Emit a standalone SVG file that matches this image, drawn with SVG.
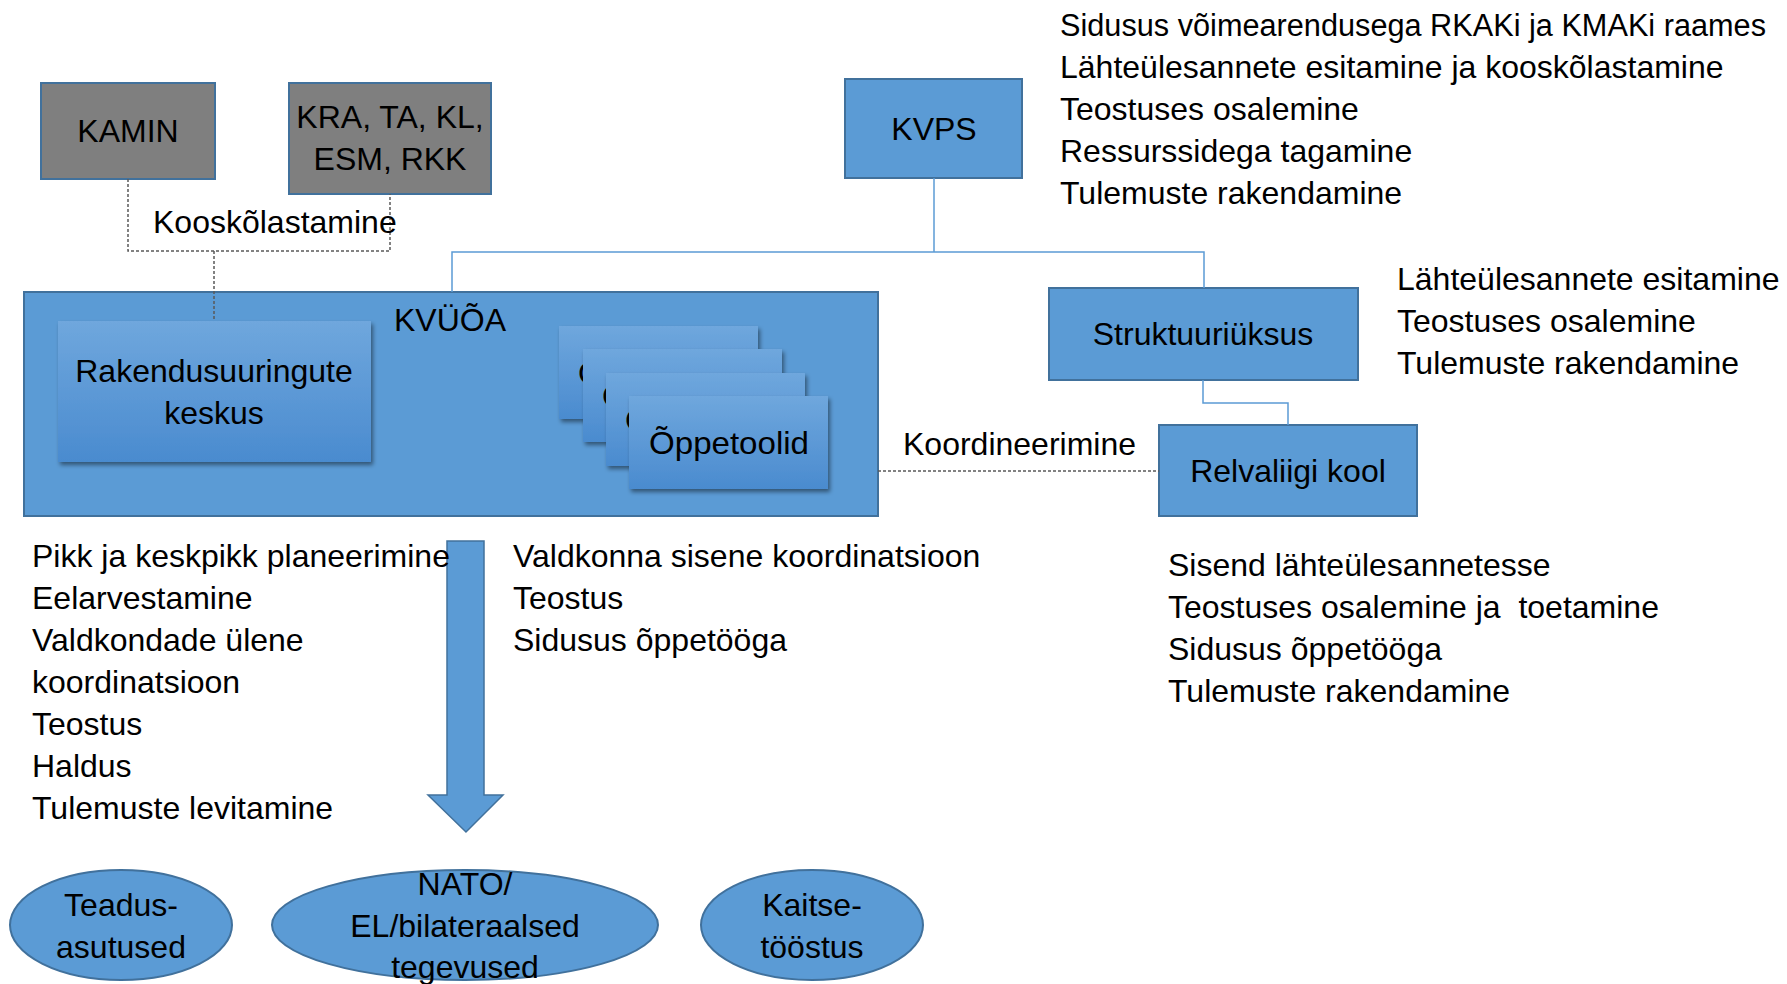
<svg xmlns="http://www.w3.org/2000/svg" width="1787" height="984" viewBox="0 0 1787 984">
<style>
.t{font-family:"Liberation Sans",Arial,sans-serif;font-size:32px;fill:#000}
.c{text-anchor:middle}
.box{fill:#5b9bd5;stroke:#41719c;stroke-width:2}
.gray{fill:#7f7f7f;stroke:#41719c;stroke-width:2}
.inner{fill:url(#g);filter:url(#sh)}
.conn{fill:none;stroke:#5b9bd5;stroke-width:1.5}
.dot{fill:none;stroke:#595959;stroke-width:1.5;stroke-dasharray:3 2}
</style>
<defs>
<linearGradient id="g" x1="0" y1="0" x2="0" y2="1">
<stop offset="0" stop-color="#6fa7dd"/>
<stop offset="1" stop-color="#4a8bcf"/>
</linearGradient>
<filter id="sh" x="-10%" y="-10%" width="125%" height="130%">
<feDropShadow dx="2" dy="3" stdDeviation="2" flood-color="#000" flood-opacity="0.45"/>
</filter>
</defs>
<rect width="1787" height="984" fill="#fff"/>

<g id="kvuoa">
<rect class="box" x="24" y="292" width="854" height="224"/>
<text class="t c" x="450" y="331">KVÜÕA</text>
</g>
<g id="rakendusuuringute-keskus">
<rect class="inner" x="58" y="321" width="313" height="141"/>
<text class="t c" x="214" y="382">Rakendusuuringute</text>
<text class="t c" x="214" y="424">keskus</text>
</g>
<g id="oppetoolid">
<rect class="inner" x="559" y="326" width="199" height="93"/>
<text class="t" x="578" y="384">Õ</text>
<rect class="inner" x="583" y="349" width="199" height="93"/>
<text class="t" x="602" y="407">Õ</text>
<rect class="inner" x="606" y="373" width="199" height="93"/>
<text class="t" x="625" y="431">Õ</text>
<rect class="inner" x="629" y="396" width="199" height="93"/>
<text class="t c" x="729" y="454" textLength="160" lengthAdjust="spacingAndGlyphs">Õppetoolid</text>
</g>
<g id="kamin">
<rect class="gray" x="41" y="83" width="174" height="96"/>
<text class="t c" x="128" y="142">KAMIN</text>
</g>
<g id="kra">
<rect class="gray" x="289" y="83" width="202" height="111"/>
<text class="t c" x="390" y="128">KRA, TA, KL,</text>
<text class="t c" x="390" y="170">ESM, RKK</text>
</g>
<g id="kvps">
<rect class="box" x="845" y="79" width="177" height="99"/>
<text class="t c" x="934" y="140">KVPS</text>
</g>
<g id="struktuuriuksus">
<rect class="box" x="1049" y="288" width="309" height="92"/>
<text class="t c" x="1203" y="345">Struktuuriüksus</text>
</g>
<g id="relvaliigi-kool">
<rect class="box" x="1159" y="425" width="258" height="91"/>
<text class="t c" x="1288" y="482">Relvaliigi kool</text>
</g>
<g id="teadusasutused">
<ellipse class="box" cx="121" cy="925" rx="111" ry="55"/>
<text class="t c" x="121" y="916">Teadus-</text>
<text class="t c" x="121" y="958">asutused</text>
</g>
<g id="nato">
<ellipse class="box" cx="465" cy="925" rx="193" ry="55"/>
<text class="t c" x="465" y="895">NATO/</text>
<text class="t c" x="465" y="937">EL/bilateraalsed</text>
<text class="t c" x="465" y="978">tegevused</text>
</g>
<g id="kaitsetoostus">
<ellipse class="box" cx="812" cy="925" rx="111" ry="55"/>
<text class="t c" x="812" y="916">Kaitse-</text>
<text class="t c" x="812" y="958">tööstus</text>
</g>

<g id="connectors">
<polyline class="dot" points="128,179 128,251 390,251 390,194"/>
<line class="dot" x1="214" y1="251" x2="214" y2="321"/>
<polyline class="conn" points="934,178 934,252"/>
<polyline class="conn" points="452,292 452,252 1204,252 1204,288"/>
<polyline class="conn" points="1203,380 1203,403 1288,403 1288,425"/>
<line class="dot" x1="878" y1="471" x2="1159" y2="471"/>
<polygon points="447,541 484,541 484,795 503,795 466,832 428,795 447,795" fill="#5b9bd5" stroke="#41719c" stroke-width="1.5"/>
</g>

<g id="labels">
<text class="t" x="153" y="233">Kooskõlastamine</text>
<text class="t" x="903" y="455">Koordineerimine</text>
<text class="t" x="1060" y="36" style="font-size:31px" textLength="706" lengthAdjust="spacingAndGlyphs">Sidusus võimearendusega RKAKi ja KMAKi raames</text>
<text class="t" x="1060" y="78">Lähteülesannete esitamine ja kooskõlastamine</text>
<text class="t" x="1060" y="120">Teostuses osalemine</text>
<text class="t" x="1060" y="162">Ressurssidega tagamine</text>
<text class="t" x="1060" y="204">Tulemuste rakendamine</text>
<text class="t" x="1397" y="290">Lähteülesannete esitamine</text>
<text class="t" x="1397" y="332">Teostuses osalemine</text>
<text class="t" x="1397" y="374">Tulemuste rakendamine</text>
<text class="t" x="32" y="567">Pikk ja keskpikk planeerimine</text>
<text class="t" x="32" y="609">Eelarvestamine</text>
<text class="t" x="32" y="651">Valdkondade ülene</text>
<text class="t" x="32" y="693">koordinatsioon</text>
<text class="t" x="32" y="735">Teostus</text>
<text class="t" x="32" y="777">Haldus</text>
<text class="t" x="32" y="819">Tulemuste levitamine</text>
<text class="t" x="513" y="567">Valdkonna sisene koordinatsioon</text>
<text class="t" x="513" y="609">Teostus</text>
<text class="t" x="513" y="651">Sidusus õppetööga</text>
<text class="t" x="1168" y="576">Sisend lähteülesannetesse</text>
<text class="t" x="1168" y="618" xml:space="preserve">Teostuses osalemine ja  toetamine</text>
<text class="t" x="1168" y="660">Sidusus õppetööga</text>
<text class="t" x="1168" y="702">Tulemuste rakendamine</text>
</g>
</svg>
